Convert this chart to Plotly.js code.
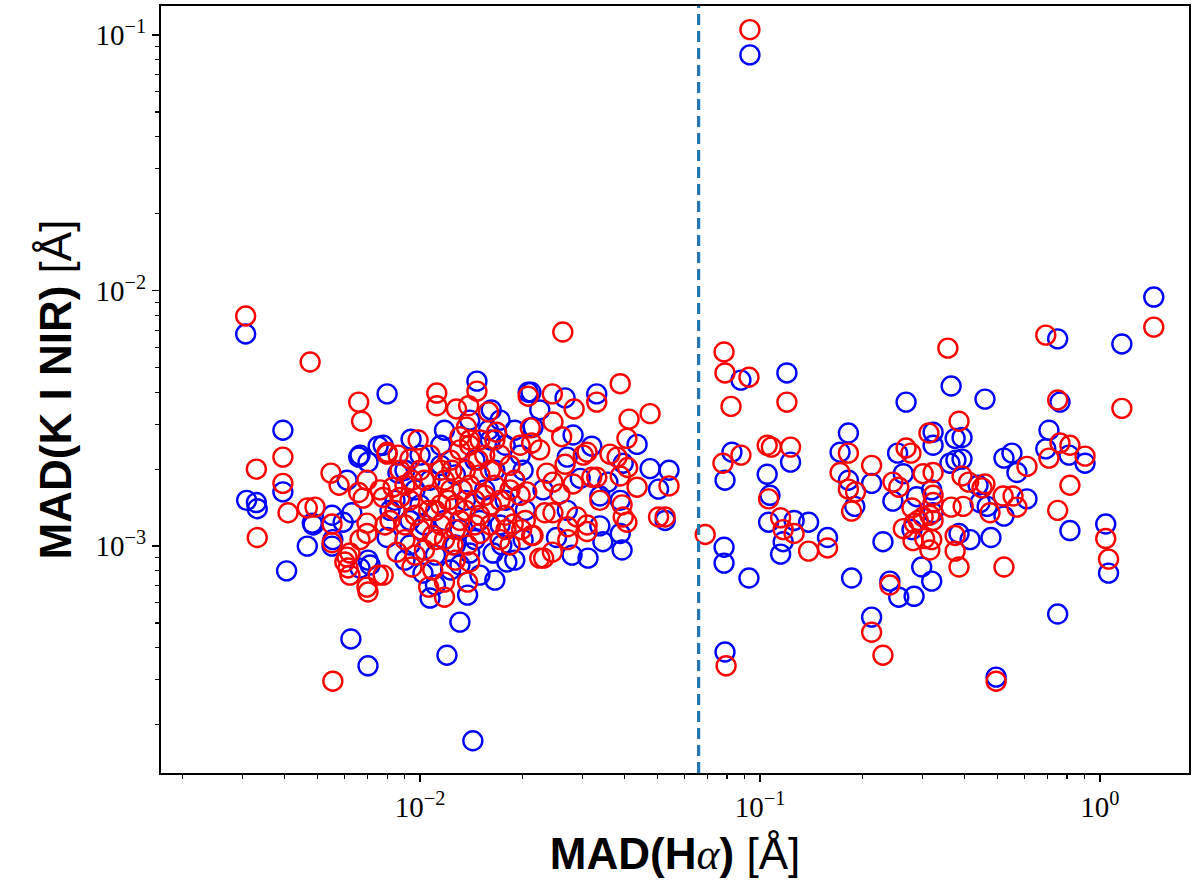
<!DOCTYPE html>
<html>
<head>
<meta charset="utf-8">
<script src="https://cdn.plot.ly/plotly-3.0.1.min.js"></script>
<style>
  html, body { margin: 0; padding: 0; background: #fff; }
  #chart { width: 1200px; height: 893px; }
</style>
</head>
<body>
<div id="chart"></div>
<script>
// MAD(Hα) vs MAD(K I NIR), log-log, two samples (blue, red)

const blueX = [
  0.00307, 0.00395, 0.00395, 0.00309, 0.00330, 0.00332, 0.00405, 0.00466, 0.00482, 0.00551,
  0.00551, 0.00666, 0.00713, 0.00626, 0.00703, 0.00800, 0.00660, 0.00753, 0.00800, 0.00941,
  0.0147, 0.0162, 0.0208, 0.0118, 0.0159, 0.00779, 0.00666, 0.00703, 0.00610, 0.00485,
  0.00630, 0.00594, 0.00554, 0.00703, 0.00816, 0.00861,
  0.0140, 0.0123, 0.0107, 0.0138, 0.0131, 0.0120, 0.0164, 0.0180, 0.0102, 0.0174, 0.0143,
  0.0331, 0.0212, 0.0267, 0.0225, 0.0435, 0.0215, 0.0282, 0.0320, 0.0396, 0.0475,
  0.0540, 0.0503, 0.0357, 0.0271, 0.0201, 0.0296, 0.0230, 0.0338, 0.0388, 0.0271,
  0.0338, 0.0388, 0.0393, 0.0345, 0.0252, 0.0280, 0.0312, 0.0526, 0.0201,
  0.00903, 0.00967, 0.0100, 0.0107, 0.0115, 0.0127, 0.0136, 0.0145, 0.0155, 0.0166,
  0.0178, 0.0190, 0.0103, 0.0118, 0.0131, 0.0150, 0.0172, 0.00934, 0.0111, 0.0127,
  0.0145, 0.0161, 0.0178, 0.0197, 0.0115, 0.0140, 0.0172, 0.0190, 0.0100, 0.00844,
  0.00934, 0.0150, 0.0166, 0.0190, 0.0204, 0.0111, 0.0131, 0.00903,
  0.0879, 0.120, 0.269, 0.0827, 0.0789, 0.123, 0.105, 0.107, 0.106, 0.126,
  0.139, 0.117, 0.115, 0.158, 0.0784, 0.0784, 0.0928, 0.0789, 0.182, 0.172,
  0.182, 0.190, 0.213, 0.186, 0.230, 0.213, 0.241, 0.256, 0.284, 0.254,
  0.264, 0.246, 0.323, 0.289, 0.320, 0.280, 0.323, 0.299, 0.320,
  1.44, 1.16, 0.751, 0.365, 0.459, 0.763, 0.323, 0.375, 0.393,
  0.362, 0.393, 0.377, 0.708, 0.693, 0.811, 0.904, 0.522, 0.551, 0.570,
  0.816, 1.04, 1.06, 0.751, 0.495, 0.438, 0.444, 0.466, 0.610, 0.522,
  0.385, 0.415, 0.478,
  0.0934
];
const blueY = [
  0.00676, 0.00284, 0.00163, 0.00151, 0.00148, 0.00140, 0.00080, 0.00100, 0.00123, 0.00132,
  0.00100, 0.00082, 0.000843, 0.000433, 0.000340, 0.00108, 0.00223, 0.00246, 0.00394, 0.00262,
  0.00442, 0.00341, 0.00400, 0.00284, 0.00284, 0.00248, 0.00227, 0.00213, 0.00181, 0.00121,
  0.00135, 0.00124, 0.00106, 0.000881, 0.00138, 0.00193,
  0.000939, 0.000806, 0.000626, 0.000643, 0.000504, 0.000374, 0.000939, 0.000866, 0.000784, 0.00101, 0.000173,
  0.00394, 0.00400, 0.00380, 0.00341, 0.00250, 0.00292, 0.00272, 0.00246, 0.00211, 0.00201,
  0.00198, 0.00167, 0.00178, 0.00223, 0.00198, 0.00184, 0.00166, 0.00157, 0.00151, 0.00138,
  0.00120, 0.00112, 0.000965, 0.00104, 0.00108, 0.000922, 0.000897, 0.00126, 0.00106,
  0.00198, 0.00166, 0.00145, 0.00181, 0.00207, 0.00190, 0.00151, 0.00217, 0.00166, 0.00198,
  0.00151, 0.00181, 0.00121, 0.00126, 0.00116, 0.00126, 0.00121, 0.00101, 0.000922, 0.00101,
  0.00106, 0.00260, 0.00248, 0.00227, 0.00248, 0.00311, 0.00311, 0.00284, 0.00227, 0.00151,
  0.00126, 0.000770, 0.000736, 0.000881, 0.00138, 0.000704, 0.000843, 0.000881,
  0.00446, 0.00476, 0.00366, 0.00233, 0.00181, 0.00213, 0.00191, 0.00158, 0.00124, 0.00126,
  0.00124, 0.00104, 0.000930, 0.00108, 0.000990, 0.000858, 0.000750, 0.000385, 0.00277, 0.00233,
  0.00181, 0.00143, 0.00176, 0.000750, 0.00104, 0.000527, 0.000729, 0.000631, 0.000636, 0.00231,
  0.00192, 0.00150, 0.00248, 0.00156, 0.00166, 0.00116, 0.00135, 0.000828, 0.000729,
  0.00943, 0.00618, 0.00647, 0.00423, 0.00376, 0.00366, 0.00279, 0.00264, 0.00266,
  0.00211, 0.00219, 0.00217, 0.00284, 0.00240, 0.00227, 0.00211, 0.00221, 0.00231, 0.00194,
  0.00115, 0.00122, 0.000784, 0.000542, 0.000307, 0.00173, 0.00148, 0.00143, 0.00153, 0.00131,
  0.00112, 0.00106, 0.00108,
  0.0836
];

const redX = [
  0.00307, 0.00475, 0.00660, 0.00673, 0.00395, 0.00330, 0.00395, 0.00547, 0.00578, 0.00800,
  0.00934, 0.00409, 0.00332, 0.00466, 0.00491, 0.00551, 0.00551, 0.00610, 0.00622, 0.00703,
  0.00753, 0.00554,
  0.00698, 0.00660, 0.00680, 0.00698, 0.00698, 0.00666, 0.00622, 0.00601, 0.00614, 0.00698,
  0.00816, 0.00833, 0.00779, 0.00763, 0.00873,
  0.0112, 0.0112, 0.0147, 0.0128, 0.0139, 0.0159, 0.0208, 0.0137, 0.0131, 0.0168, 0.0211, 0.00800,
  0.00779, 0.00789, 0.0125, 0.0140, 0.0118, 0.0109, 0.0106, 0.0118, 0.0138, 0.0150,
  0.0213, 0.0225, 0.00947, 0.00855, 0.0188,
  0.00873, 0.00903, 0.00934, 0.00967, 0.0100, 0.0103, 0.0107, 0.0111, 0.0115, 0.0118,
  0.0123, 0.0127, 0.0131, 0.0136, 0.0140, 0.0145, 0.0150, 0.0155, 0.0161, 0.0166,
  0.0172, 0.0178, 0.0184, 0.0190, 0.0197, 0.0204, 0.00903, 0.00967, 0.0107, 0.0115,
  0.0123, 0.0131, 0.0140, 0.0150, 0.0161, 0.0172, 0.0184, 0.0127, 0.0103, 0.0111,
  0.0136, 0.0145, 0.0155, 0.0118, 0.0100, 0.0184, 0.00844, 0.00903, 0.0172, 0.0197,
  0.0127, 0.0140, 0.0115, 0.0150, 0.0166,
  0.00862, 0.00947, 0.0106, 0.0121, 0.0133, 0.0148, 0.0162, 0.0179, 0.0109, 0.0138,
  0.0124, 0.00987,
  0.0388, 0.0331, 0.0245, 0.0284, 0.0412, 0.0475, 0.0406, 0.0246, 0.0261, 0.0213,
  0.0225, 0.0310, 0.0302, 0.0362, 0.0380, 0.0408, 0.0540, 0.0435, 0.0388, 0.0331,
  0.0320, 0.0267, 0.0236, 0.0246, 0.0282, 0.0258, 0.0206, 0.0338, 0.0393, 0.0233,
  0.0246, 0.0289, 0.0310, 0.0272, 0.0396, 0.0406, 0.0310, 0.0272, 0.0215, 0.0231,
  0.0245, 0.0503, 0.0526, 0.0199, 0.0263, 0.0690,
  0.0784, 0.0789, 0.0928, 0.0822, 0.120, 0.0879, 0.0778, 0.105, 0.108, 0.123,
  0.106, 0.115, 0.117, 0.126, 0.139, 0.158, 0.0795, 0.182, 0.172, 0.182,
  0.191, 0.186, 0.213, 0.213, 0.230, 0.241, 0.269, 0.278, 0.246, 0.256,
  0.314, 0.302, 0.323, 0.323, 0.323, 0.280, 0.264, 0.284, 0.292, 0.302,
  0.316, 0.282, 0.305, 0.316, 0.357,
  0.693, 0.751, 1.16, 0.385, 0.708, 0.763, 0.816, 0.904, 0.610,
  0.816, 0.751, 1.04, 1.06, 0.495, 0.393, 0.411, 0.459, 0.450, 0.475,
  0.365, 0.396, 0.519, 0.555, 0.570, 0.375, 0.375, 0.385, 0.522,
  0.320, 0.323, 1.44,
  0.0934
];
const redY = [
  0.00795, 0.00525, 0.00366, 0.00308, 0.00223, 0.00200, 0.00176, 0.00193, 0.00173, 0.00229,
  0.00219, 0.00135, 0.00108, 0.00141, 0.00142, 0.00122, 0.00103, 0.000905, 0.000770, 0.000661,
  0.000770, 0.000296,
  0.00181, 0.00162, 0.00154, 0.00123, 0.00112, 0.00106, 0.000939, 0.000866, 0.000821, 0.000691,
  0.00126, 0.00170, 0.00155, 0.00166, 0.00155,
  0.00397, 0.00354, 0.00404, 0.00344, 0.00354, 0.00335, 0.00386, 0.00292, 0.00268, 0.00279, 0.00290, 0.00233,
  0.000770, 0.00121, 0.00101, 0.000866, 0.000723, 0.000806, 0.000691, 0.000631, 0.000723, 0.00112,
  0.00110, 0.000897, 0.000828, 0.000947, 0.00122,
  0.00198, 0.00173, 0.00151, 0.00132, 0.00116, 0.00181, 0.00158, 0.00138, 0.00121, 0.00106,
  0.00166, 0.00145, 0.00126, 0.00198, 0.00173, 0.00151, 0.00132, 0.00227, 0.00198, 0.00173,
  0.00151, 0.00132, 0.00207, 0.00181, 0.00158, 0.00126, 0.00106, 0.000922, 0.00227, 0.00198,
  0.00217, 0.00238, 0.00248, 0.00190, 0.00121, 0.00106, 0.00101, 0.00116, 0.000965, 0.00106,
  0.00138, 0.00121, 0.00158, 0.00181, 0.00198, 0.00166, 0.00138, 0.00121, 0.00227, 0.00248,
  0.000881, 0.00260, 0.00145, 0.00260, 0.00260,
  0.00227, 0.00181, 0.00138, 0.00151, 0.00166, 0.00217, 0.00145, 0.00116, 0.00110, 0.00101,
  0.00198, 0.00260,
  0.00432, 0.00366, 0.00394, 0.00344, 0.00314, 0.00330, 0.00264, 0.00306, 0.00268, 0.00253,
  0.00238, 0.00233, 0.00227, 0.00229, 0.00223, 0.00203, 0.00172, 0.00170, 0.00188, 0.00186,
  0.00186, 0.00209, 0.00193, 0.00178, 0.00175, 0.00160, 0.00163, 0.00151, 0.00145, 0.00135,
  0.00135, 0.00130, 0.00121, 0.00119, 0.00130, 0.00124, 0.00114, 0.00106, 0.00110, 0.000897,
  0.000947, 0.00130, 0.00130, 0.00116, 0.00688, 0.00111,
  0.00575, 0.00476, 0.00458, 0.00352, 0.00366, 0.00227, 0.00211, 0.00248, 0.00244, 0.00244,
  0.00153, 0.00129, 0.00116, 0.00112, 0.000956, 0.000983, 0.000340, 0.00231, 0.00194, 0.00167,
  0.00163, 0.00137, 0.00207, 0.000460, 0.000374, 0.000704, 0.00242, 0.00231, 0.00178, 0.00170,
  0.00277, 0.00192, 0.00194, 0.00158, 0.00148, 0.00141, 0.00117, 0.00123, 0.00126, 0.00130,
  0.00132, 0.00105, 0.00107, 0.000965, 0.00595,
  0.00669, 0.00373, 0.00346, 0.00308, 0.00221, 0.00253, 0.00248, 0.00225, 0.00205,
  0.00173, 0.00138, 0.00107, 0.000889, 0.000296, 0.00188, 0.00178, 0.00175, 0.00169, 0.00135,
  0.00142, 0.00143, 0.00157, 0.00157, 0.00142, 0.00110, 0.000956, 0.000828, 0.000828,
  0.00106, 0.00126, 0.00719,
  0.105
];

// threshold in MAD(Hα)
const cutX = 0.066;

const xTickVals = [0.01, 0.1, 1];
const xTickText = ['10<sup>−2</sup>', '10<sup>−1</sup>', '10<sup>0</sup>'];
const yTickVals = [0.001, 0.01, 0.1];
const yTickText = ['10<sup>−3</sup>', '10<sup>−2</sup>', '10<sup>−1</sup>'];

// minor ticks 2..9 per decade
function minorVals(lo, hi) {
  const out = [];
  for (let e = lo; e <= hi; e++) {
    for (let m = 2; m <= 9; m++) out.push(m * Math.pow(10, e));
  }
  return out;
}

const marker = (color) => ({
  symbol: 'circle-open', size: 19, color, line: { width: 2.4, color },
});

const traces = [
  { x: blueX, y: blueY, type: 'scatter', mode: 'markers', marker: marker('#0000ff'), hoverinfo: 'x+y' },
  { x: redX, y: redY, type: 'scatter', mode: 'markers', marker: marker('#ff0000'), hoverinfo: 'x+y' },
];

const SERIF = 'Liberation Serif, DejaVu Serif, serif';
const SANS = 'Liberation Sans, Arial, sans-serif';

const axisCommon = {
  type: 'log',
  showgrid: false,
  zeroline: false,
  showline: true,
  linecolor: '#000',
  linewidth: 2,
  mirror: true,
  ticks: 'outside',
  ticklen: 7,
  tickwidth: 1.6,
  tickcolor: '#000',
  tickmode: 'array',
  tickfont: { family: SERIF, size: 29, color: '#000' },
};

const alpha = `<span style="font-family:${SERIF};font-weight:normal"><i>α</i></span>`;

const layout = {
  width: 1200, height: 893,
  paper_bgcolor: '#fff', plot_bgcolor: '#fff',
  margin: { l: 161, r: 11, t: 6, b: 120 },
  showlegend: false,
  xaxis: {
    ...axisCommon,
    range: [-2.762, 0.262],
    tickvals: xTickVals, ticktext: xTickText,
    minor: { tickvals: minorVals(-3, 0), ticks: 'outside', ticklen: 4, tickwidth: 1.2, tickcolor: '#000', showgrid: false },
    title: {
      text: `<b>MAD(H</b>${alpha}<b>)</b> [Å]`,
      font: { family: SANS, size: 44, color: '#000' },
      standoff: 16,
    },
  },
  yaxis: {
    ...axisCommon,
    range: [-3.888, -0.8865],
    tickvals: yTickVals, ticktext: yTickText,
    minor: { tickvals: minorVals(-4, -1), ticks: 'outside', ticklen: 4, tickwidth: 1.2, tickcolor: '#000', showgrid: false },
    title: {
      text: '<b>MAD(K I NIR)</b> [Å]',
      font: { family: SANS, size: 44, color: '#000' },
      standoff: 10,
    },
  },
  shapes: [{
    type: 'line', xref: 'x', yref: 'paper', x0: cutX, x1: cutX, y0: 0, y1: 1,
    line: { color: '#1f77b4', width: 3.2, dash: '11px,6px' },
  }],
};

Plotly.newPlot('chart', traces, layout, { displayModeBar: false, staticPlot: true });
</script>
</body>
</html>
